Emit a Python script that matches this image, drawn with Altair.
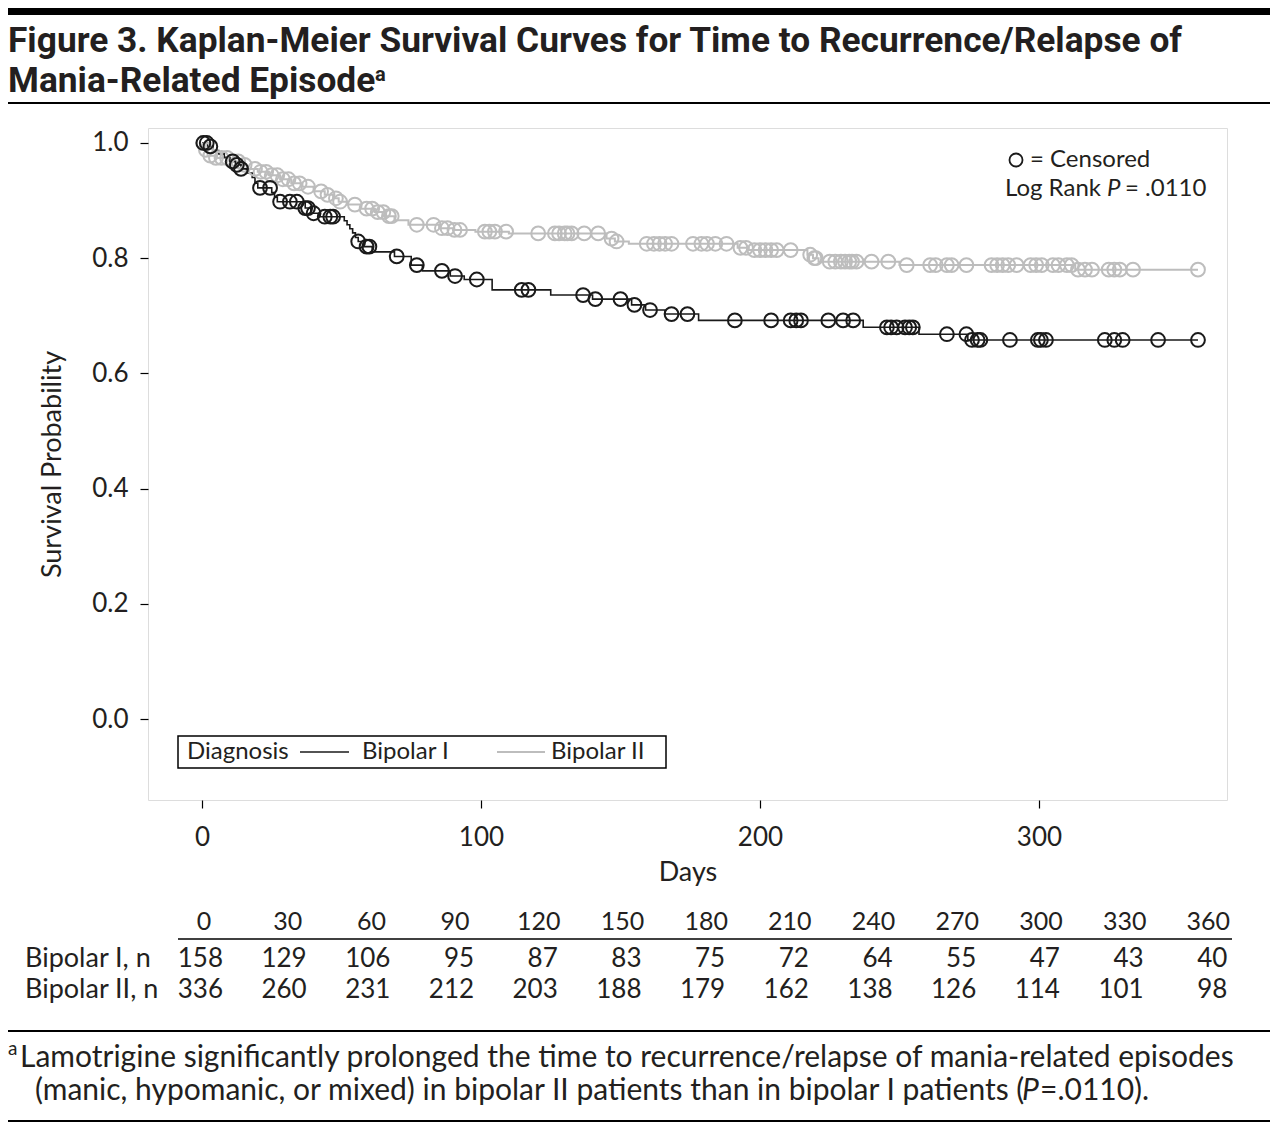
import altair as alt
import pandas as pd
import numpy as np

# ---------------- data ----------------
# Bipolar I Kaplan-Meier step function (day, survival after step)
bp1_step_day = [0, 2, 4, 6, 8, 10, 12, 14, 16, 18, 19, 20, 25, 26, 27, 37, 39, 42,
                51, 52, 53, 54, 55, 56, 58, 61, 69, 75, 79, 89, 94, 104, 125, 140,
                154, 159, 166, 178, 237, 257, 274.5, 357]
bp1_step_surv = [1.0, 0.994, 0.987, 0.981, 0.975, 0.968, 0.962, 0.955, 0.948, 0.94, 0.93, 0.922,
                 0.914, 0.906, 0.898, 0.887, 0.878, 0.872,
                 0.865, 0.858, 0.851, 0.844, 0.836, 0.829, 0.82, 0.811, 0.803, 0.788, 0.778,
                 0.769, 0.763, 0.745, 0.736, 0.729,
                 0.719, 0.71, 0.703, 0.692, 0.68, 0.668, 0.658, 0.658]
bp1_cens_day = [0.5, 1.7, 3, 11, 12.5, 14, 20.8, 24.4, 28, 31.5, 34, 37, 38, 40, 44, 46, 47,
                56, 59, 60, 69.8, 77, 86, 90.7, 98.5, 114.6, 117, 136.6, 141, 150, 155,
                160.6, 168.3, 174, 191, 204, 211, 213, 214.7, 224.5, 229.8, 233.4, 245.5,
                247, 249, 252, 253.5, 254.8, 267, 274, 276, 278, 279, 289.6, 299.6, 300.7,
                302.5, 323.6, 327, 330, 342.7, 357]

# Bipolar II
bp2_step_day = [0, 1, 2, 5, 10, 14, 16, 20, 24, 28, 32, 36, 40, 44, 47, 49, 52, 57, 62, 66,
                69, 74, 85, 90, 98, 110, 145, 148, 153, 192, 196, 217, 219, 221, 250, 313, 357]
bp2_step_surv = [1.0, 0.988, 0.978, 0.974, 0.968, 0.962, 0.955, 0.95, 0.944, 0.937, 0.93,
                 0.924, 0.916, 0.91, 0.904, 0.898, 0.893, 0.886, 0.88, 0.873,
                 0.866, 0.858, 0.852, 0.849, 0.846, 0.843, 0.834, 0.829, 0.825, 0.818,
                 0.814, 0.806, 0.8, 0.794, 0.788, 0.78, 0.78]
bp2_cens_day = [0.4, 1.4, 3, 5, 7, 9, 11, 13, 15.3, 19, 21, 23, 25, 27, 29, 31, 33, 35, 38,
                42.7, 45, 48, 49.5, 54.8, 59, 61, 63, 65, 67, 68, 77, 83, 86, 88, 90.5, 92.5,
                101.4, 103, 105, 109, 120.5, 126.5, 128, 130, 131, 132.5, 137, 142, 146.8,
                148.6, 159.4, 162, 164, 166, 168.3, 176, 179, 181, 184, 188, 193, 195, 198,
                200, 202, 204, 206, 211, 218, 219.5, 220, 225, 227, 229, 230.5, 232, 233,
                234.6, 240, 246, 252.6, 261, 263, 267, 268.7, 274, 283, 285, 287, 289, 292,
                297, 299, 301, 305, 307, 310, 311.7, 314, 316.5, 319, 325, 327, 329, 333.7, 357]

# Number at risk table
risk_days = [0, 30, 60, 90, 120, 150, 180, 210, 240, 270, 300, 330, 360]
bp1_at_risk = [158, 129, 106, 95, 87, 83, 75, 72, 64, 55, 47, 43, 40]
bp2_at_risk = [336, 260, 231, 212, 203, 188, 179, 162, 138, 126, 114, 101, 98]

x_ticks = [0, 100, 200, 300]
y_ticks = [0.0, 0.2, 0.4, 0.6, 0.8, 1.0]

# ---------------- tables ----------------
def censor_table(cdays, sdays, ssurv):
    sd = np.array(sdays, dtype=float)
    ss = np.array(ssurv, dtype=float)
    idx = np.searchsorted(sd, np.array(cdays, dtype=float), side="right") - 1
    return pd.DataFrame({"day": cdays, "surv": ss[idx]})

bp1_line = pd.DataFrame({"day": bp1_step_day, "surv": bp1_step_surv})
bp2_line = pd.DataFrame({"day": bp2_step_day, "surv": bp2_step_surv})
bp1_cens = censor_table(bp1_cens_day, bp1_step_day, bp1_step_surv)
bp2_cens = censor_table(bp2_cens_day, bp2_step_day, bp2_step_surv)
risk = pd.DataFrame({"day": risk_days, "n1": bp1_at_risk, "n2": bp2_at_risk})

BLACK = "#1a1a1a"
GREY = "#bdbdbd"
TXT = "#231f20"
FONT = "Lato"
TFONT = "Liberation Sans Narrow, Roboto, Lato, sans-serif"

xs = alt.Scale(domain=[-19.35, 367.4], nice=False, zero=False)
ys = alt.Scale(domain=[-0.1406, 1.026], nice=False, zero=False)

x_axis = alt.Axis(values=x_ticks, title="Days", labelFontSize=26, titleFontSize=27,
                  labelFont=FONT, titleFont=FONT, titleFontWeight="normal",
                  tickSize=8, tickColor="black", tickWidth=1.2, domain=False, grid=False,
                  labelPadding=16, titlePadding=9, labelColor=TXT, titleColor=TXT)
y_axis = alt.Axis(values=y_ticks, format=".1f", title="Survival Probability",
                  labelFontSize=26, titleFontSize=27, labelFont=FONT, titleFont=FONT,
                  titleFontWeight="normal", tickSize=8, tickColor="black", tickWidth=1.2,
                  domain=False, grid=False, labelPadding=12, titlePadding=25,
                  labelColor=TXT, titleColor=TXT)

line1 = alt.Chart(bp1_line).mark_line(interpolate="step-after", color=BLACK, strokeWidth=1.6).encode(
    x=alt.X("day:Q", scale=xs, axis=x_axis),
    y=alt.Y("surv:Q", scale=ys, axis=y_axis),
)
line2 = alt.Chart(bp2_line).mark_line(interpolate="step-after", color=GREY, strokeWidth=2).encode(
    x=alt.X("day:Q", scale=xs), y=alt.Y("surv:Q", scale=ys))
pts2 = alt.Chart(bp2_cens).mark_point(shape="circle", filled=False, color=GREY, size=190,
                                      strokeWidth=2, opacity=1).encode(
    x=alt.X("day:Q", scale=xs), y=alt.Y("surv:Q", scale=ys))
pts1 = alt.Chart(bp1_cens).mark_point(shape="circle", filled=False, color=BLACK, size=190,
                                      strokeWidth=2, opacity=1).encode(
    x=alt.X("day:Q", scale=xs), y=alt.Y("surv:Q", scale=ys))

one = pd.DataFrame({"k": [0]})

def txt(s, x, y, size=23, align="left", baseline="middle", weight="normal", style="normal",
        font=FONT, color=TXT):
    return alt.Chart(one).mark_text(text=s, align=align, baseline=baseline, fontSize=size,
                                    fontWeight=weight, fontStyle=style, font=font,
                                    color=color).encode(x=alt.value(x), y=alt.value(y))

def hrule(x1, x2, y, w=1.5, color="black"):
    return alt.Chart(one).mark_rule(color=color, strokeWidth=w).encode(
        x=alt.value(x1), x2=alt.value(x2), y=alt.value(y))

layers = [line2, line1, pts2, pts1]

# Legend (inside plot)
layers.append(alt.Chart(one).mark_rect(fill="white", stroke="black", strokeWidth=1.5).encode(
    x=alt.value(30), x2=alt.value(518), y=alt.value(608), y2=alt.value(640)))
layers += [
    txt("Diagnosis", 39, 624, size=24),
    hrule(152, 201, 624, 1.6, BLACK),
    txt("Bipolar I", 214, 624, size=24),
    hrule(349, 397, 624, 2, GREY),
    txt("Bipolar II", 403, 624, size=24),
]

# Censored note
layers.append(alt.Chart(one).mark_point(shape="circle", filled=False, color=BLACK, size=170,
                                        strokeWidth=1.8, opacity=1).encode(
    x=alt.value(868), y=alt.value(32)))
layers += [
    txt("= Censored", 882, 32, size=24),
    txt("Log Rank", 857, 61, size=24),
    txt("P", 959, 61, size=24, style="italic"),
    txt("= .0110", 977, 61, size=24),
]

# Title
layers += [
    alt.Chart(one).mark_rect(color="black").encode(
        x=alt.value(-140), x2=alt.value(1122), y=alt.value(-120), y2=alt.value(-113)),
    txt("Figure 3. Kaplan-Meier Survival Curves for Time to Recurrence/Relapse of",
        -140, -76, size=35.3, baseline="alphabetic", weight="bold", font=TFONT),
    txt("Mania-Related Episode", -140, -36, size=35.3, baseline="alphabetic", weight="bold", font=TFONT),
    txt("a", 227, -47, size=20, baseline="alphabetic", weight="bold", font=TFONT),
    hrule(-140, 1122, -25, 2),
]

# At-risk table
layers += [
    alt.Chart(risk).mark_text(align="center", baseline="middle", fontSize=25, font=FONT,
                              color=TXT, dx=2).encode(
        x=alt.X("day:Q", scale=xs), y=alt.value(794), text="day:Q"),
    hrule(30, 1084, 811, 1.5),
    alt.Chart(risk).mark_text(align="right", baseline="middle", fontSize=26, font=FONT,
                              color=TXT, dx=21).encode(
        x=alt.X("day:Q", scale=xs), y=alt.value(831), text="n1:Q"),
    alt.Chart(risk).mark_text(align="right", baseline="middle", fontSize=26, font=FONT,
                              color=TXT, dx=21).encode(
        x=alt.X("day:Q", scale=xs), y=alt.value(862), text="n2:Q"),
    txt("Bipolar I, n", -123, 831, size=27),
    txt("Bipolar II, n", -123, 862, size=27),
]

# Footnote
layers += [
    hrule(-140, 1122, 903, 2),
    txt("a", -140, 921, size=19),
    txt("Lamotrigine significantly prolonged the time to recurrence/relapse of mania-related episodes",
        -128, 930, size=30),
    txt("(manic, hypomanic, or mixed) in bipolar II patients than in bipolar I patients (",
        -113, 963, size=30),
    txt("P", 874, 963, size=30, style="italic"),
    txt("=.0110).", 892, 963, size=30),
    hrule(-140, 1122, 993, 2),
]

chart = alt.layer(*layers).properties(
    width=1079, height=672,
    autosize=alt.AutoSizeParams(type="none"),
    padding={"left": 140, "top": 120, "right": 43, "bottom": 325},
).configure_view(stroke="black", strokeWidth=1.5).configure(background="white")

chart.save("out.html", embed_options={"renderer": "svg", "actions": False})
